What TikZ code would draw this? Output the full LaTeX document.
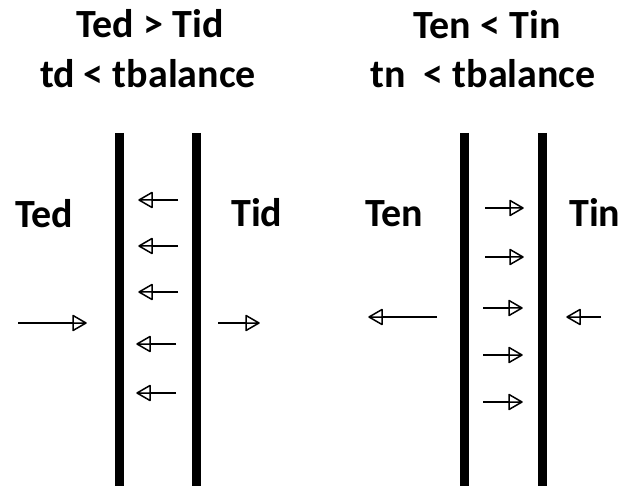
\documentclass[tikz,border=0pt]{standalone}
\usepackage{fontspec}
\setmainfont{Carlito}
\usetikzlibrary{decorations.markings}
\tikzset{
  lbl/.style={font=\fontsize{40}{40}\selectfont\bfseries, inner sep=0pt, anchor=base},
  sidelbl/.style={lbl, anchor=base west},
  wall/.style={line width=9pt, line cap=butt},
  % thin shaft ending in an open triangular head that the shaft runs through
  flow/.style={line width=1.5pt, line join=round,
    postaction={decorate, decoration={markings,
      mark=at position 1 with {\draw[line width=1.5pt, line join=round, fill=white]
        (0,0) -- (-13,7.5) -- (-13,-7.5) -- cycle (-13,0) -- (0,0);}}}}
}
\begin{document}
\begin{tikzpicture}[x=1pt, y=-1pt]
  \fill[white] (0,0) rectangle (621,486);
  \useasboundingbox (0,0) rectangle (621,486);

  % headings
  \node[lbl] (h1a) at (150,38) {Ted > Tid};
  \node[lbl] (h1b) at (148,88) {td < tbalance};
  \node[lbl] (h2a) at (487,39) {Ten < Tin};
  \node[lbl] (h2b) at (483,88) {tn\ \ < tbalance};

  % side labels
  \node[sidelbl] (ted) at (15,228) {Ted};
  \node[sidelbl] (tid) at (231,227) {Tid};
  \node[sidelbl] (ten) at (365,227) {Ten};
  \node[sidelbl] (tin) at (569,227) {Tin};

  % walls
  \coordinate (w1t) at (119,133); \coordinate (w1b) at (119,486);
  \coordinate (w2t) at (196.5,133); \coordinate (w2b) at (196.5,486);
  \coordinate (w3t) at (464,133); \coordinate (w3b) at (464,486);
  \coordinate (w4t) at (542,133); \coordinate (w4b) at (542,486);
  \draw[wall] (w1t) -- (w1b);
  \draw[wall] (w2t) -- (w2b);
  \draw[wall] (w3t) -- (w3b);
  \draw[wall] (w4t) -- (w4b);

  % left case: outside and inside flows
  \coordinate (a1s) at (18,323);  \coordinate (a1e) at (86,323);
  \coordinate (a2s) at (218,323); \coordinate (a2e) at (259,323);
  \draw[flow] (a1s) -- (a1e);
  \draw[flow] (a2s) -- (a2e);
  \foreach \y/\xs/\xe [count=\i] in {200/178/139, 246/178/139, 292/178/139, 344/176/137, 393/176/137}{
    \coordinate (l\i s) at (\xs,\y); \coordinate (l\i e) at (\xe,\y);
    \draw[flow] (l\i s) -- (l\i e);
  }

  % right case: outside and inside flows
  \coordinate (b1s) at (437,317); \coordinate (b1e) at (369,317);
  \coordinate (b2s) at (601,317); \coordinate (b2e) at (567,317);
  \draw[flow] (b1s) -- (b1e);
  \draw[flow] (b2s) -- (b2e);
  \foreach \y/\xs/\xe [count=\i] in {208/485/523, 257/485/523, 308/483/522, 355/483/522, 402/483/522}{
    \coordinate (r\i s) at (\xs,\y); \coordinate (r\i e) at (\xe,\y);
    \draw[flow] (r\i s) -- (r\i e);
  }
\end{tikzpicture}
\end{document}
